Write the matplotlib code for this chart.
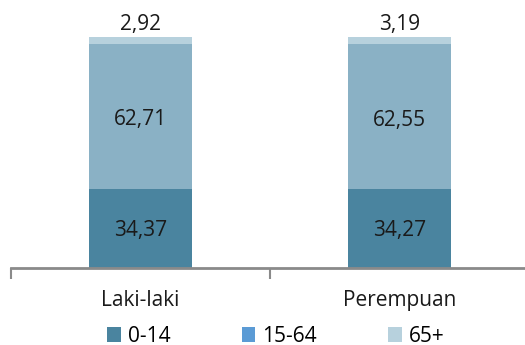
import matplotlib.pyplot as plt
from matplotlib.patches import Patch

categories = ["Laki-laki", "Perempuan"]
age_groups = ["0-14", "15-64", "65+"]
share_0_14 = [34.37, 34.27]
share_15_64 = [62.71, 62.55]
share_65 = [2.92, 3.19]

bar_colors = ["#4a849f", "#8ab1c5", "#b7d1dd"]
legend_colors = ["#4a849f", "#5b9bd5", "#b7d1dd"]

plt.rcParams["font.family"] = ["Open Sans", "DejaVu Sans"]
FS = 15

fig = plt.figure(figsize=(5.25, 3.45), dpi=100)
ax = fig.add_axes([11 / 525, 1 - 268 / 345, 518 / 525, 231 / 345])

x = range(len(categories))
bottom = [0.0] * len(categories)
for vals, col in zip([share_0_14, share_15_64, share_65], bar_colors):
    ax.bar(x, vals, width=0.4, bottom=bottom, color=col, linewidth=0)
    bottom = [b + v for b, v in zip(bottom, vals)]

def fmt(v):
    return f"{v:.2f}".replace(".", ",")

for i in x:
    ax.text(i, share_0_14[i] / 2 - 1, fmt(share_0_14[i]), ha="center", va="center",
            fontsize=FS, color="#1a1a1a")
    ax.text(i, share_0_14[i] + share_15_64[i] / 2 - 1.5, fmt(share_15_64[i]),
            ha="center", va="center", fontsize=FS, color="#1a1a1a")
    ax.text(i, bottom[i] + 5.5, fmt(share_65[i]), ha="center", va="center",
            fontsize=FS, color="#1a1a1a", clip_on=False)

ax.set_xlim(-0.5, 1.5)
ax.set_ylim(0, 100)
ax.set_yticks([])
ax.set_xticks(list(x))
ax.set_xticklabels(categories, fontsize=FS, color="#1a1a1a")
ax.set_xticks([-0.5, 0.5, 1.5], minor=True)
ax.tick_params(axis="x", which="major", length=0, pad=16)
ax.tick_params(axis="x", which="minor", length=8, width=1.5, color="#8a8a8a")
for side in ["top", "right", "left"]:
    ax.spines[side].set_visible(False)
ax.spines["bottom"].set_color("#8a8a8a")
ax.spines["bottom"].set_linewidth(2)

handles = [Patch(facecolor=c, edgecolor="none") for c in legend_colors]
fig.legend(handles, age_groups, loc="center", bbox_to_anchor=(276 / 525, 1 - 336 / 345),
           ncol=3, frameon=False, fontsize=FS, handlelength=0.65, handleheight=0.7,
           handletextpad=0.35, columnspacing=3.4, borderpad=0)

fig.savefig("out.png", dpi=100)
